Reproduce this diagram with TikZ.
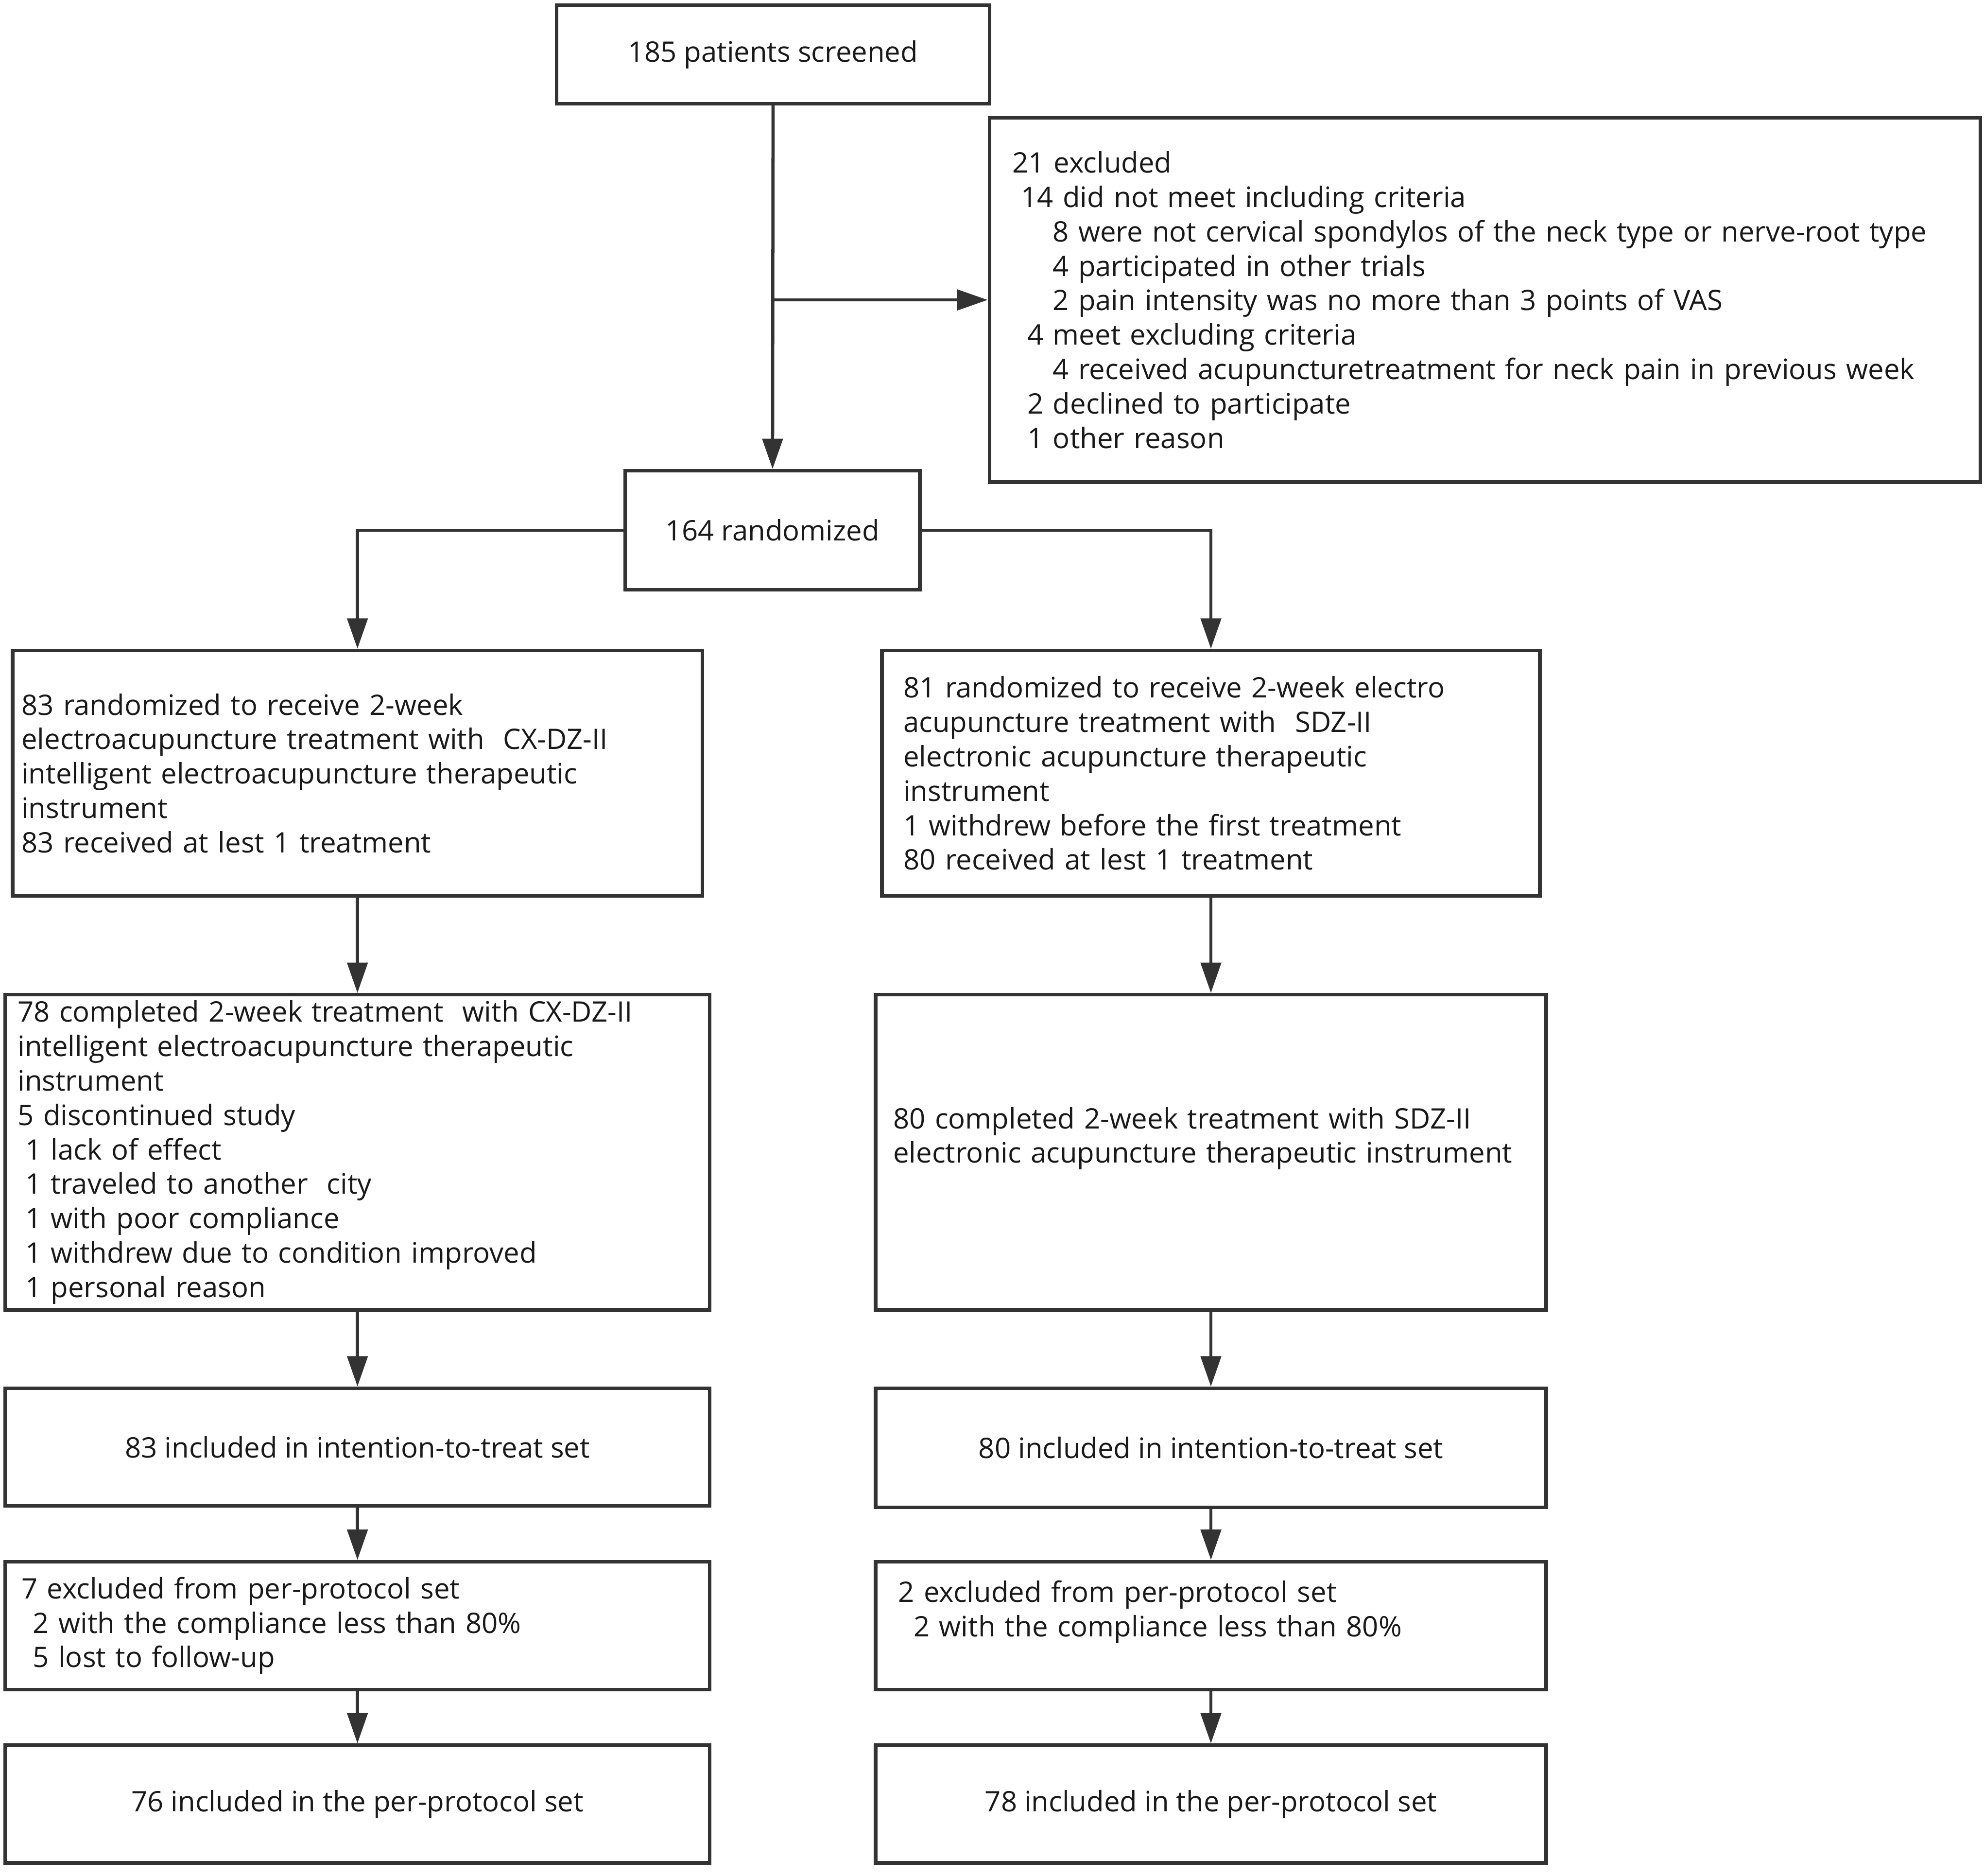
\documentclass[tikz,border=0pt]{standalone}
\usepackage{fontspec}
\setmainfont{Open Sans}
\usetikzlibrary{arrows.meta}
\definecolor{flowline}{HTML}{333333}
\tikzset{
    flow-box/.style = {draw=flowline, line width=2.8pt, rectangle, inner sep=0pt, text=black!90, font=\fontsize{22.3}{27.2}\selectfont},
    flow-list/.style = {flow-box, align=left},
    flow-arrow/.style = {draw=flowline, line width=2.5pt, -{Triangle[length=24pt, width=16pt]}},
}

\begin{document}
\begin{tikzpicture}[x=1pt, y=-1pt]
\useasboundingbox (0,0) rectangle (1568,1482);

\node[flow-box, minimum width=342pt, minimum height=78pt] (screened) at (611,43) {185 patients screened};
\node[flow-list, text width=747pt, inner xsep=18pt, minimum height=288pt] (excluded) at (1173.5,237) {21 excluded\\
\hspace*{7pt}14 did not meet including criteria\\
\hspace*{32pt}8 were not cervical spondylos of the neck type or nerve-root type\\
\hspace*{32pt}4 participated in other trials\\
\hspace*{32pt}2 pain intensity was no more than 3 points of VAS\\
\hspace*{12pt}4 meet excluding criteria\\
\hspace*{32pt}4 received acupuncturetreatment for neck pain in previous week\\
\hspace*{12pt}2 declined to participate\\
\hspace*{12pt}1 other reason};
\node[flow-box, minimum width=233pt, minimum height=94pt] (randomized) at (610.5,419) {164 randomized};

\node[flow-list, text width=531pt, inner xsep=7pt, minimum height=194pt] (treatA) at (282.5,611) {83 randomized to receive 2-week\\
electroacupuncture treatment with\ \ CX-DZ-II\\
intelligent electroacupuncture therapeutic\\
instrument\\
83 received at lest 1 treatment};
\node[flow-list, text width=486pt, inner xsep=17pt, minimum height=194pt] (treatB) at (957,611) {81 randomized to receive 2-week electro\\
acupuncture treatment with\ \ SDZ-II\\
electronic acupuncture therapeutic\\
instrument\\
1 withdrew before the first treatment\\
80 received at lest 1 treatment};

\node[flow-list, text width=537pt, inner xsep=10pt, minimum height=249pt] (completeA) at (282.5,910.5) {78 completed 2-week treatment\ \ with CX-DZ-II\\
intelligent electroacupuncture therapeutic\\
instrument\\
5 discontinued study\\
\hspace*{6pt}1 lack of effect\\
\hspace*{6pt}1 traveled to another\ \ city\\
\hspace*{6pt}1 with poor compliance\\
\hspace*{6pt}1 withdrew due to condition improved\\
\hspace*{6pt}1 personal reason};
\node[flow-list, text width=502pt, inner xsep=14pt, minimum height=249pt] (completeB) at (957,910.5) {80 completed 2-week treatment with SDZ-II\\
electronic acupuncture therapeutic instrument\\
\mbox{}};

\node[flow-box, minimum width=557pt, minimum height=93pt] (ittA) at (282.5,1143.5) {83 included in intention-to-treat set};
\node[flow-box, minimum width=530pt, minimum height=94pt] (ittB) at (957,1144) {80 included in intention-to-treat set};

\node[flow-list, text width=531pt, inner xsep=13pt, minimum height=101pt] (ppexA) at (282.5,1284.5) {7 excluded from per-protocol set\\
\hspace*{9pt}2 with the compliance less than 80\%\\
\hspace*{9pt}5 lost to follow-up};
\node[flow-list, text width=494pt, inner xsep=18pt, minimum height=101pt] (ppexB) at (957,1284.5) {2 excluded from per-protocol set\\
\hspace*{12pt}2 with the compliance less than 80\%\\
\mbox{}};

\node[flow-box, minimum width=557pt, minimum height=93pt] (ppA) at (282.5,1425.5) {76 included in the per-protocol set};
\node[flow-box, minimum width=530pt, minimum height=93pt] (ppB) at (957,1425.5) {78 included in the per-protocol set};

\draw[flow-arrow] (screened) -- (randomized);
\draw[flow-arrow] (screened.south |- excluded.west) -- (excluded.west);
\draw[flow-arrow] (randomized.west) -| (treatA.north);
\draw[flow-arrow] (randomized.east) -| (treatB.north);
\foreach \from/\to in {treatA/completeA, completeA/ittA, ittA/ppexA, ppexA/ppA, treatB/completeB, completeB/ittB, ittB/ppexB, ppexB/ppB}
    \draw[flow-arrow] (\from) -- (\to);
\end{tikzpicture}
\end{document}
